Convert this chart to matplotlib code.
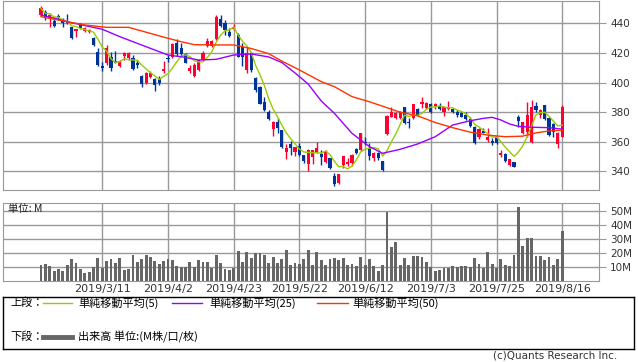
import numpy as np
import pandas as pd
import matplotlib
matplotlib.use("Agg")
import matplotlib.pyplot as plt

plt.rcParams['font.family'] = ['DejaVu Sans']
CJK = ['Noto Sans CJK JP', 'DejaVu Sans']

# daily candles (open, high, low, close), 120 trading days
opens = [445.6, 447.9, 443.4, 441.8, 445.0, 442.3, 441.1, 437.7, 435.0, 438.9,
         435.0, 433.9, 429.9, 420.9, 411.2, 413.0, 417.5, 414.6, 411.4, 417.9,
         416.4, 416.4, 413.4, 404.4, 399.5, 403.5, 402.4, 402.2, 407.8, 416.8,
         417.0, 426.5, 423.1, 419.1, 407.8, 404.6, 408.5, 415.2, 424.9, 424.9,
         429.2, 442.9, 440.5, 433.9, 435.9, 432.1, 424.2, 408.5, 419.7, 402.8,
         396.8, 387.1, 380.3, 368.6, 373.6, 367.9, 353.3, 358.5, 353.3, 357.1,
         351.0, 345.0, 349.9, 352.6, 351.7, 346.1, 348.8, 336.9, 331.9, 344.3,
         345.0, 345.4, 354.9, 354.4, 360.0, 355.6, 348.8, 352.2, 346.8, 365.2,
         376.9, 375.8, 375.8, 383.3, 373.6, 375.8, 381.9, 385.5, 382.6, 385.5,
         384.2, 384.2, 380.3, 381.9, 381.9, 380.3, 379.2, 378.1, 375.1, 370.2,
         363.0, 367.5, 361.2, 360.7, 363.0, 351.0, 351.7, 344.3, 346.6, 376.5,
         365.7, 366.8, 360.0, 384.2, 378.1, 384.8, 375.8, 372.0, 358.5, 363.0]
highs = [451.7, 449.0, 446.8, 443.4, 446.1, 443.4, 446.3, 437.7, 436.0, 440.5,
         437.7, 435.9, 430.5, 423.1, 414.1, 425.4, 420.9, 421.5, 415.2, 420.4,
         420.9, 418.6, 415.2, 405.1, 407.3, 408.0, 402.8, 404.4, 414.6, 418.6,
         426.5, 429.2, 426.5, 420.2, 411.9, 413.0, 415.7, 421.5, 429.9, 428.7,
         445.6, 445.6, 442.3, 436.6, 439.5, 433.2, 426.5, 424.2, 420.9, 403.5,
         397.7, 390.5, 381.4, 374.2, 375.8, 367.9, 358.5, 360.7, 356.7, 359.4,
         351.0, 354.9, 354.4, 360.0, 354.4, 354.4, 348.8, 338.7, 338.2, 350.4,
         348.8, 351.7, 355.6, 366.1, 363.4, 358.9, 353.3, 353.3, 347.2, 378.1,
         383.3, 380.3, 381.0, 383.7, 375.8, 385.5, 382.6, 390.0, 387.1, 386.0,
         386.0, 386.4, 384.2, 387.8, 382.6, 381.4, 380.3, 380.3, 376.5, 370.6,
         369.1, 369.1, 369.1, 362.3, 363.4, 354.4, 352.2, 348.1, 346.6, 378.1,
         373.6, 387.1, 388.2, 387.1, 381.9, 384.8, 376.9, 372.9, 366.8, 384.8]
lows = [445.0, 442.3, 437.3, 437.3, 442.3, 437.3, 439.5, 429.2, 430.5, 435.9,
        433.9, 433.2, 424.9, 411.2, 408.0, 411.9, 408.0, 413.0, 410.7, 415.2,
        415.2, 408.5, 409.6, 397.2, 399.0, 402.8, 394.5, 398.3, 406.7, 414.1,
        416.4, 417.9, 417.9, 413.0, 406.2, 404.0, 408.0, 414.8, 424.2, 424.2,
        428.7, 437.7, 432.1, 431.0, 435.5, 417.0, 411.2, 406.7, 407.3, 393.8,
        385.5, 381.0, 374.7, 363.9, 366.1, 355.6, 348.3, 351.0, 350.4, 350.4,
        345.4, 340.5, 345.0, 352.6, 344.3, 345.4, 341.4, 330.3, 331.5, 342.0,
        343.8, 343.6, 351.7, 354.0, 357.8, 347.7, 347.2, 347.7, 340.5, 364.6,
        376.5, 375.1, 375.1, 372.0, 369.1, 375.1, 378.1, 382.6, 381.9, 379.2,
        381.9, 381.4, 377.4, 381.4, 379.6, 376.9, 376.5, 374.7, 370.2, 358.5,
        361.6, 365.7, 360.0, 357.8, 358.5, 349.5, 346.6, 343.6, 342.7, 370.2,
        365.2, 363.4, 359.4, 380.3, 375.8, 374.7, 363.9, 363.4, 355.6, 363.0]
closes = [450.1, 443.4, 445.6, 438.2, 443.4, 440.0, 440.0, 429.9, 436.0, 436.6,
          436.6, 435.5, 425.4, 411.9, 410.0, 423.1, 409.6, 413.4, 414.6, 419.7,
          419.7, 409.1, 411.9, 398.8, 406.7, 406.7, 398.3, 399.9, 409.1, 415.7,
          426.0, 419.3, 419.3, 413.4, 409.6, 411.9, 415.2, 420.2, 428.3, 428.3,
          444.5, 438.4, 435.5, 431.4, 437.7, 417.5, 417.5, 419.7, 408.5, 395.0,
          385.5, 381.4, 375.1, 373.6, 369.1, 356.7, 355.6, 355.6, 356.2, 351.0,
          347.0, 354.4, 354.4, 356.0, 349.9, 354.0, 342.0, 331.5, 338.2, 350.4,
          346.6, 351.0, 352.2, 365.7, 359.4, 350.4, 352.2, 348.8, 340.9, 377.4,
          380.3, 379.2, 380.3, 372.9, 372.4, 385.5, 378.1, 387.1, 386.4, 380.3,
          385.5, 381.9, 383.3, 383.7, 380.3, 378.1, 376.9, 375.1, 370.6, 358.9,
          368.4, 366.1, 363.4, 358.9, 359.4, 352.6, 347.2, 348.1, 343.2, 374.2,
          373.6, 378.1, 383.7, 381.4, 381.4, 375.1, 364.6, 366.8, 365.7, 383.7]

# volume in millions
volumes = [11.6, 12.3, 10.8, 7.2, 8.4, 7.2, 11.6, 15.7, 13.0, 8.7,
           6.0, 6.5, 9.9, 16.4, 9.4, 14.5, 15.4, 13.0, 16.6, 8.0,
           8.7, 18.8, 13.7, 15.9, 18.8, 17.3, 14.5, 12.3, 14.5, 15.9,
           15.2, 10.8, 9.9, 9.9, 13.7, 9.9, 15.2, 13.7, 13.7, 9.4,
           18.8, 13.0, 8.7, 8.2, 9.6, 21.7, 13.7, 21.0, 16.6, 20.2,
           20.2, 18.8, 13.0, 17.3, 13.0, 15.9, 22.4, 11.6, 13.0, 12.3,
           15.9, 22.4, 11.6, 21.0, 15.2, 11.6, 15.9, 16.6, 15.2, 16.6,
           11.6, 12.3, 10.8, 17.3, 11.6, 15.9, 10.8, 7.2, 11.6, 49.2,
           24.6, 27.5, 11.6, 16.6, 11.6, 18.0, 18.0, 17.3, 13.7, 10.1,
           7.2, 8.0, 9.4, 9.4, 10.8, 10.1, 10.8, 10.8, 10.1, 16.6,
           12.3, 9.4, 21.0, 12.3, 9.4, 15.9, 11.6, 10.8, 18.8, 52.8,
           25.3, 31.0, 31.0, 18.0, 18.0, 15.2, 17.3, 11.6, 15.9, 35.4]

# moving averages at selected sessions
ma25_idx = [0, 3, 6, 10, 14, 18, 21, 25, 29, 33, 36, 40, 44, 48, 52, 55, 58,
            61, 64, 67, 71, 75, 78, 82, 86, 90, 94, 98, 101, 103, 105, 107,
            109, 112, 116, 119]
ma25 = [445.6, 443.5, 441.1, 438.5, 436.0, 431.0, 427.6, 423.1, 418.6, 417.0,
        415.2, 415.7, 418.6, 419.3, 417.3, 413.5, 406.5, 399.0, 387.5, 379.2,
        365.7, 356.7, 352.2, 354.9, 358.5, 363.4, 371.3, 374.2, 375.8, 376.5,
        374.7, 372.0, 370.4, 369.8, 369.5, 368.5]
ma50_idx = [0, 6, 10, 15, 20, 25, 29, 32, 35, 40, 44, 48, 52, 55, 59, 64,
            67, 71, 75, 79, 82, 86, 90, 94, 98, 102, 106, 110, 113, 116, 119]
ma50 = [444.5, 441.1, 438.9, 437.3, 437.3, 433.2, 429.9, 427.6, 425.6, 425.4,
        425.4, 423.0, 419.5, 414.5, 408.5, 400.6, 397.2, 390.5, 387.0, 383.0,
        380.0, 377.5, 373.0, 369.5, 366.5, 364.5, 363.4, 363.8, 366.0, 367.3,
        367.8]

date_labels = ['2019/3/11', '2019/4/2', '2019/4/23', '2019/5/22',
               '2019/6/12', '2019/7/3', '2019/7/25', '2019/8/16']
first_label_idx = 14
label_step = 15

price_ticks = [340, 360, 380, 400, 420, 440]
vol_ticks = [10, 20, 30, 40, 50]

UP = '#ff0033'
DOWN = '#003399'
GRID = '#999999'

W, H = 638, 362
fig = plt.figure(figsize=(W / 100, H / 100), dpi=100)
fig.patch.set_facecolor('white')


def px_axes(l, t, r, b):
    return fig.add_axes([l / W, 1 - b / H, (r - l) / W, (b - t) / H])


x = np.arange(len(closes))
o = np.array(opens)
c = np.array(closes)
xlim = (-8.67, 127.4)
tick_pos = [first_label_idx + label_step * k for k in range(len(date_labels))]

# ---- price panel
ax = px_axes(3, 1, 599, 190)
ax.set_xlim(*xlim)
ax.set_ylim(327.4, 455.1)
up = c >= o
cols = np.where(up, UP, DOWN)
ax.vlines(x, lows, highs, colors=cols, linewidth=1, zorder=3)
body_h = np.maximum(np.abs(c - o), 0.5)
ax.bar(x, body_h, bottom=np.minimum(o, c), width=0.72, color=cols,
       linewidth=0, zorder=4)

ma5 = pd.Series(closes).rolling(5, min_periods=1).mean()
ax.plot(x, ma5, color='#99cc00', linewidth=1, zorder=5)
ax.plot(ma25_idx, ma25, color='#9900ff', linewidth=1, zorder=5)
ax.plot(ma50_idx, ma50, color='#ff3300', linewidth=1, zorder=5)

ax.set_yticks(price_ticks)
ax.set_xticks(tick_pos)
ax.grid(True, color=GRID, linewidth=1)
ax.set_axisbelow(True)
ax.yaxis.tick_right()
ax.tick_params(axis='y', length=5, color=GRID, labelsize=7.5, pad=3,
               labelcolor='#333333')
ax.tick_params(axis='x', length=0, labelbottom=False)
for s in ax.spines.values():
    s.set_color(GRID)

# ---- volume panel
av = px_axes(3, 203, 599, 281)
av.set_xlim(*xlim)
av.set_ylim(0, 55.7)
av.bar(x, volumes, width=0.65, color='#666666', linewidth=0, zorder=3)
av.set_yticks(vol_ticks)
av.set_yticklabels([f'{v}M' for v in vol_ticks])
av.set_xticks(tick_pos)
av.set_xticklabels(date_labels)
av.grid(True, color=GRID, linewidth=1)
av.set_axisbelow(True)
av.yaxis.tick_right()
av.tick_params(axis='y', length=5, color=GRID, labelsize=7.5, pad=3,
               labelcolor='#333333')
av.tick_params(axis='x', length=0, labelsize=8, pad=2, labelcolor='#333333')
for s in av.spines.values():
    s.set_color(GRID)
av.text(0.008, 0.92, '単位: M', transform=av.transAxes, fontsize=7.5,
        family=CJK, va='center', ha='left', color='#222222')

# ---- legend box
al = px_axes(3, 297, 634, 349)
al.set_xlim(3, 634)
al.set_ylim(349, 297)
al.set_xticks([])
al.set_yticks([])
for s in al.spines.values():
    s.set_color('black')
    s.set_linewidth(1)

fs = 8
al.text(10, 303, '上段：', family=CJK, fontsize=fs, va='center')
al.plot([43, 72], [303, 303], color='#99cc00', linewidth=1)
al.text(78, 303, '単純移動平均(5)', family=CJK, fontsize=fs, va='center')
al.plot([172, 202], [303, 303], color='#9900ff', linewidth=1)
al.text(209, 303, '単純移動平均(25)', family=CJK, fontsize=fs, va='center')
al.plot([317, 348], [303, 303], color='#ff3300', linewidth=1)
al.text(352, 303, '単純移動平均(50)', family=CJK, fontsize=fs, va='center')
al.text(10, 337, '下段：', family=CJK, fontsize=fs, va='center')
al.plot([43, 72], [337, 337], color='#666666', linewidth=3.5)
al.text(78, 337, '出来高 単位:(M株/口/枚)', family=CJK, fontsize=fs,
        va='center')

fig.text(617 / W, 1 - 356 / H, '(c)Quants Research Inc.', fontsize=7.5,
         ha='right', va='center', color='#333333')

fig.savefig('out.png', dpi=100)
